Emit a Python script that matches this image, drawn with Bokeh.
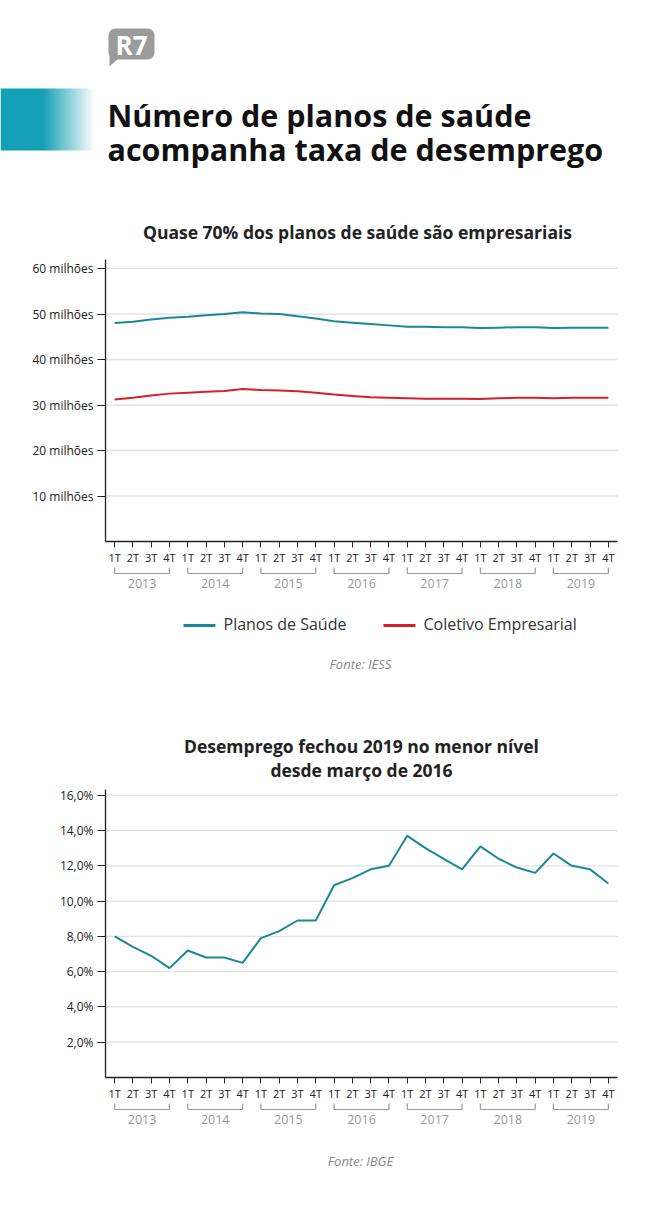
import numpy as np
from bokeh.plotting import figure
from bokeh.layouts import column
from bokeh.models import FixedTicker, Range1d, LinearAxis, BoxAnnotation
from bokeh.core.properties import value
from bokeh.embed import file_html
from bokeh.resources import INLINE

# ---------------- data ----------------
quarters = ["1T", "2T", "3T", "4T"] * 7
years = ["2013", "2014", "2015", "2016", "2017", "2018", "2019"]
planos = [48.0, 48.3, 48.8, 49.2, 49.4, 49.7, 50.0, 50.4,
          50.1, 50.0, 49.5, 49.0, 48.4, 48.1, 47.8, 47.5,
          47.2, 47.2, 47.1, 47.1, 46.9, 47.0, 47.1, 47.1,
          46.9, 47.0, 47.0, 47.0]
coletivo = [31.2, 31.6, 32.1, 32.5, 32.7, 32.9, 33.1, 33.5,
            33.3, 33.2, 33.0, 32.7, 32.3, 32.0, 31.7, 31.6,
            31.5, 31.4, 31.4, 31.4, 31.3, 31.5, 31.6, 31.6,
            31.5, 31.6, 31.6, 31.6]
desemprego = [8.0, 7.4, 6.9, 6.2, 7.2, 6.8, 6.8, 6.5,
              7.9, 8.3, 8.9, 8.9, 10.9, 11.3, 11.8, 12.0,
              13.7, 13.0, 12.4, 11.8, 13.1, 12.4, 11.9, 11.6,
              12.7, 12.0, 11.8, 11.0]
y1_ticks = [10, 20, 30, 40, 50, 60]
y1_labels = ["10 milhões", "20 milhões", "30 milhões", "40 milhões", "50 milhões", "60 milhões"]
y2_ticks = [2, 4, 6, 8, 10, 12, 14, 16]
y2_labels = ["2,0%", "4,0%", "6,0%", "8,0%", "10,0%", "12,0%", "14,0%", "16,0%"]

TEAL = "#1c8897"
RED = "#d61f2c"
FONT = value("Open Sans")
W = 644
N = len(quarters)
S = 512 / N  # px per quarter


def X(px):
    return (px - 105) / S - 0.5


def make_chart(top, height, zero_py, ppu, axis_top, ticks, labels):
    def Y(py):
        return (zero_py - py) / ppu
    p = figure(width=W, height=height, output_backend="svg", toolbar_location=None,
               x_range=Range1d(X(0), X(W)),
               y_range=Range1d(Y(top + height), Y(top)),
               x_axis_location=None, y_axis_location=None, min_border=0)
    p.outline_line_color = None
    p.xgrid.visible = False
    p.ygrid.visible = False
    # grid lines
    p.segment(x0=[-0.5] * len(ticks), x1=[N - 0.5] * len(ticks), y0=ticks, y1=ticks,
              line_color="#e3e3e3", line_width=1.3)
    # y axis
    yax = LinearAxis(fixed_location=-0.5, bounds=(0, axis_top),
                     ticker=FixedTicker(ticks=ticks),
                     major_label_overrides={t: l for t, l in zip(ticks, labels)})
    yax.axis_line_color = "#222"
    yax.axis_line_width = 1.3
    yax.major_tick_line_color = "#222"
    yax.major_tick_out = 8
    yax.major_tick_in = 0
    yax.minor_tick_out = 0
    yax.minor_tick_in = 0
    yax.major_label_standoff = 4
    yax.major_label_text_font = "Open Sans"
    yax.major_label_text_font_size = "12px"
    yax.major_label_text_color = "#222"
    p.add_layout(yax, "left")
    # x axis
    xax = LinearAxis(fixed_location=0, bounds=(-0.5, N - 0.5),
                     ticker=FixedTicker(ticks=list(range(N))),
                     major_label_overrides={i: q for i, q in enumerate(quarters)})
    xax.axis_line_color = "#222"
    xax.axis_line_width = 1.3
    xax.major_tick_line_color = "#222"
    xax.major_tick_out = 6
    xax.major_tick_in = 0
    xax.minor_tick_out = 0
    xax.minor_tick_in = 0
    xax.major_label_standoff = 2
    xax.major_label_text_font = "Open Sans"
    xax.major_label_text_font_size = "11px"
    xax.major_label_text_color = "#222"
    p.add_layout(xax, "below")
    # year brackets
    by0 = Y(zero_py + 26)
    by1 = Y(zero_py + 32)
    xs0 = [4 * k for k in range(len(years))]
    xs1 = [4 * k + 3 for k in range(len(years))]
    p.segment(x0=xs0, x1=xs1, y0=[by1] * len(years), y1=[by1] * len(years),
              line_color="#999", line_width=1.2)
    p.segment(x0=xs0, x1=xs0, y0=[by0] * len(years), y1=[by1] * len(years),
              line_color="#999", line_width=1.2)
    p.segment(x0=xs1, x1=xs1, y0=[by0] * len(years), y1=[by1] * len(years),
              line_color="#999", line_width=1.2)
    p.text(x=[4 * k + 1.5 for k in range(len(years))], y=[Y(zero_py + 42)] * len(years),
           text=years, text_font=FONT, text_font_size="12.5px", text_color="#999",
           text_align="center", text_baseline="middle")
    return p, Y


# ---------------- header ----------------
h = figure(width=W, height=200, output_backend="svg", toolbar_location=None,
           x_range=Range1d(0, W), y_range=Range1d(200, 0),
           x_axis_location=None, y_axis_location=None, min_border=0)
h.outline_line_color = None
h.xgrid.visible = False
h.ygrid.visible = False
# gradient bar
gw = 100
cols = np.arange(gw)
alpha = np.clip(1 - (cols - 42) / 52.0, 0, 1)
img = np.zeros((62, gw), dtype=np.uint32)
view = img.view(dtype=np.uint8).reshape((62, gw, 4))
view[:, :, 0] = 0x13
view[:, :, 1] = 0x9f
view[:, :, 2] = 0xb5
view[:, :, 3] = (alpha * 255).astype(np.uint8)[None, :]
h.image_rgba(image=[img], x=0, y=88, dw=gw, dh=62)
# logo
h.add_layout(BoxAnnotation(left=108, right=154, top=28, bottom=59, fill_color="#9b9b9b",
                           fill_alpha=1, line_color=None, border_radius=7, level="underlay"))
h.patch(x=[109, 109, 118], y=[54, 66, 58], fill_color="#9b9b9b", line_color=None)
h.text(x=[131], y=[44], text=["R7"], text_font=value("Open Sans"), text_font_style="bold",
       text_font_size="26px", text_color="white", text_align="center", text_baseline="middle")
h.text(x=[107, 107], y=[114, 148],
       text=["Número de planos de saúde", "acompanha taxa de desemprego"],
       text_font=FONT, text_font_style="bold", text_font_size="30.5px", text_color="#111",
       text_align="left", text_baseline="alphabetic")

# ---------------- chart 1 ----------------
p1, Y1 = make_chart(200, 500, 541, 4.55, 62, y1_ticks, y1_labels)
p1.line(x=list(range(N)), y=planos, line_color=TEAL, line_width=2)
p1.line(x=list(range(N)), y=coletivo, line_color=RED, line_width=2)
p1.text(x=[X(357)], y=[Y1(231)], text=["Quase 70% dos planos de saúde são empresariais"],
        text_font=FONT, text_font_style="bold", text_font_size="17.5px", text_color="#222",
        text_align="center", text_baseline="middle")
p1.segment(x0=[X(183), X(383)], x1=[X(215), X(415)], y0=[Y1(625)] * 2, y1=[Y1(625)] * 2,
           line_color=[TEAL, RED], line_width=3)
p1.text(x=[X(223), X(423)], y=[Y1(623)] * 2, text=["Planos de Saúde", "Coletivo Empresarial"],
        text_font=FONT, text_font_size="16px", text_color="#333",
        text_align="left", text_baseline="middle")
p1.text(x=[X(360)], y=[Y1(663)], text=["Fonte: IESS"], text_font=FONT,
        text_font_style="italic", text_font_size="13px", text_color="#888",
        text_align="center", text_baseline="middle")

# ---------------- chart 2 ----------------
p2, Y2 = make_chart(700, 507, 1077, 17.64, 16.3, y2_ticks, y2_labels)
p2.line(x=list(range(N)), y=desemprego, line_color=TEAL, line_width=2)
p2.text(x=[X(361), X(361)], y=[Y2(745), Y2(769)],
        text=["Desemprego fechou 2019 no menor nível", "desde março de 2016"],
        text_font=FONT, text_font_style="bold", text_font_size="17.5px", text_color="#222",
        text_align="center", text_baseline="middle")
p2.text(x=[X(360)], y=[Y2(1160)], text=["Fonte: IBGE"], text_font=FONT,
        text_font_style="italic", text_font_size="13px", text_color="#888",
        text_align="center", text_baseline="middle")

layout = column(h, p1, p2, spacing=0)
open("out.html", "w").write(file_html(layout, INLINE))
